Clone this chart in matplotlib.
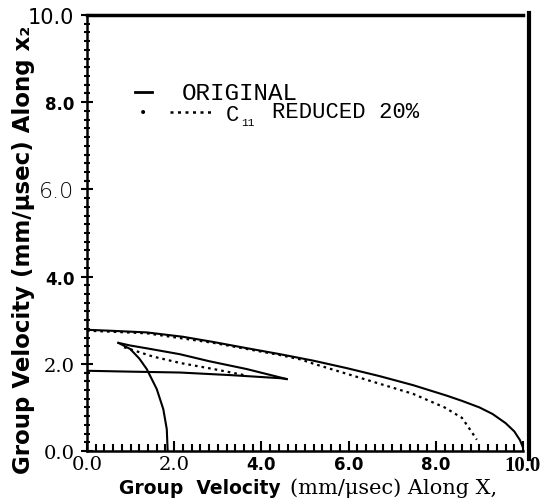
import matplotlib
matplotlib.use('Agg')
import matplotlib.pyplot as plt
from matplotlib.lines import Line2D
from matplotlib.ticker import MultipleLocator

# 데이터
outer_x = [0.0, 0.5, 1.37, 2.2, 2.9, 3.6, 4.43, 5.2, 5.96, 6.7, 7.48, 8.25, 8.6, 9.0, 9.3, 9.6, 9.8, 9.93, 10.0]
outer_y = [2.78, 2.76, 2.72, 2.62, 2.5, 2.37, 2.22, 2.07, 1.9, 1.72, 1.51, 1.27, 1.15, 1.0, 0.85, 0.64, 0.45, 0.25, 0.08]

reduced_x = [0.0, 1.37, 2.9, 4.43, 4.9, 5.2, 5.96, 6.72, 7.48, 8.2, 8.6, 8.78, 8.94]
reduced_y = [2.76, 2.7, 2.48, 2.2, 2.1, 2.0, 1.77, 1.54, 1.31, 1.0, 0.76, 0.5, 0.26]

horiz_x = [0.0, 1.0, 2.13, 3.3, 4.43, 4.58]
horiz_y = [1.84, 1.82, 1.8, 1.74, 1.67, 1.65]

upper_x = [4.58, 3.66, 2.8, 2.13, 1.4, 0.99, 0.72]
upper_y = [1.65, 1.88, 2.06, 2.22, 2.35, 2.42, 2.48]

reduced_in_x = [0.85, 1.5, 2.13, 2.9, 3.66]
reduced_in_y = [2.38, 2.17, 2.02, 1.88, 1.73]

shear_x = [0.72, 0.99, 1.2, 1.37, 1.6, 1.75, 1.83, 1.85]
shear_y = [2.48, 2.34, 2.12, 1.88, 1.42, 0.96, 0.5, 0.0]

xtick_vals = [0, 2, 4, 6, 8, 10]
xtick_labels = ['0.0', '2.0', '4.0', '6.0', '8.0', '10.0']
ytick_vals = [0, 2, 4, 6, 8, 10]
ytick_labels = ['0.0', '2.0', '4.0', '6.0', '8.0', '10.0']

W, H = 540, 502


def fx(px):
    return px / W


def fy(py):
    return 1 - py / H


fig = plt.figure(figsize=(5.4, 5.02), dpi=100)
ax = fig.add_axes([fx(87), fy(452), 436 / W, 436 / H])

lw = 1.5
dots = (0, (1.2, 1.8))
ax.plot(outer_x, outer_y, color='black', lw=lw)
ax.plot(reduced_x, reduced_y, color='black', lw=1.6, linestyle=dots)
ax.plot(horiz_x, horiz_y, color='black', lw=lw)
ax.plot(upper_x, upper_y, color='black', lw=lw)
ax.plot(reduced_in_x, reduced_in_y, color='black', lw=1.6, linestyle=dots)
ax.plot(shear_x, shear_y, color='black', lw=lw)

ax.set_xlim(0, 10)
ax.set_ylim(0, 10)
ax.xaxis.set_minor_locator(MultipleLocator(0.2))
ax.yaxis.set_minor_locator(MultipleLocator(0.2))
ax.set_xticks(xtick_vals)
ax.set_yticks(ytick_vals)
ax.set_xticklabels(xtick_labels)
ax.set_yticklabels(ytick_labels)

ax.tick_params(axis='x', which='both', direction='in', width=1.5, pad=3)
ax.tick_params(axis='x', which='major', length=7)
ax.tick_params(axis='x', which='minor', length=5)
ax.tick_params(axis='y', which='both', direction='inout', width=1.5, pad=5)
ax.tick_params(axis='y', which='major', length=8)
ax.tick_params(axis='y', which='minor', length=5)
ax.tick_params(top=False, right=False)

for s in ['left', 'bottom']:
    ax.spines[s].set_linewidth(1.8)
ax.spines['top'].set_linewidth(2.5)
ax.spines['right'].set_visible(False)

# 눈금 글꼴 (스캔 원본처럼 제각각)
x_fonts = [
    dict(family='DejaVu Serif', weight='normal', size=14),
    dict(family='DejaVu Serif', weight='normal', size=14),
    dict(family='DejaVu Sans', weight='bold', size=12),
    dict(family='DejaVu Sans', weight='bold', size=12),
    dict(family='DejaVu Sans', weight='bold', size=12),
    dict(family='Liberation Serif', weight='bold', size=15),
]
y_fonts = [
    dict(family='DejaVu Serif', weight='normal', size=14),
    dict(family='DejaVu Serif', weight='normal', size=14),
    dict(family='DejaVu Sans', weight='bold', size=12),
    dict(family='DejaVu Sans', weight='light', size=16),
    dict(family='DejaVu Sans', weight='bold', size=12),
    dict(family='Liberation Sans Narrow', weight='normal', size=15),
]
for lab, f in zip(ax.get_xticklabels(), x_fonts):
    lab.set_fontfamily(f['family'])
    lab.set_fontweight(f['weight'])
    lab.set_fontsize(f['size'])
for lab, f in zip(ax.get_yticklabels(), y_fonts):
    lab.set_fontfamily(f['family'])
    lab.set_fontweight(f['weight'])
    lab.set_fontsize(f['size'])

# 축 제목
fig.text(fx(119), fy(494), 'Group  Velocity', fontsize=13.5, fontweight='bold',
         family='DejaVu Sans', ha='left', va='baseline')
fig.text(fx(290), fy(494), '(mm/\u03bcsec) Along X,', fontsize=15,
         family='DejaVu Serif', ha='left', va='baseline')
fig.text(fx(24), fy(250), 'Group Velocity (mm/\u03bcsec) Along x\u2082', fontsize=16.5,
         fontweight='bold', family='DejaVu Sans', rotation=90, ha='center', va='center')

# 범례
fig.add_artist(Line2D([fx(135), fx(152)], [fy(93), fy(93)], color='black', lw=2,
                      transform=fig.transFigure))
fig.text(fx(182), fy(100), 'ORIGINAL', fontsize=17.5, family='Liberation Mono',
         ha='left', va='baseline')
fig.text(fx(143), fy(113), '\u2022', fontsize=10, ha='center', va='center')
fig.add_artist(Line2D([fx(170), fx(215)], [fy(113), fy(113)], color='black',
                      lw=1.8, linestyle=dots, transform=fig.transFigure))
fig.text(fx(226), fy(121), 'C', fontsize=16, family='Liberation Mono',
         ha='left', va='baseline')
fig.text(fx(241), fy(126), '11', fontsize=8, family='Liberation Mono',
         ha='left', va='baseline')
fig.text(fx(272), fy(118), 'REDUCED 20%', fontsize=16, family='Liberation Mono',
         ha='left', va='baseline')

# 오른쪽 굵은 세로선
fig.add_artist(Line2D([fx(529), fx(529)], [fy(14), fy(460)], color='black', lw=3,
                      transform=fig.transFigure))

fig.savefig('out.png', dpi=100)
